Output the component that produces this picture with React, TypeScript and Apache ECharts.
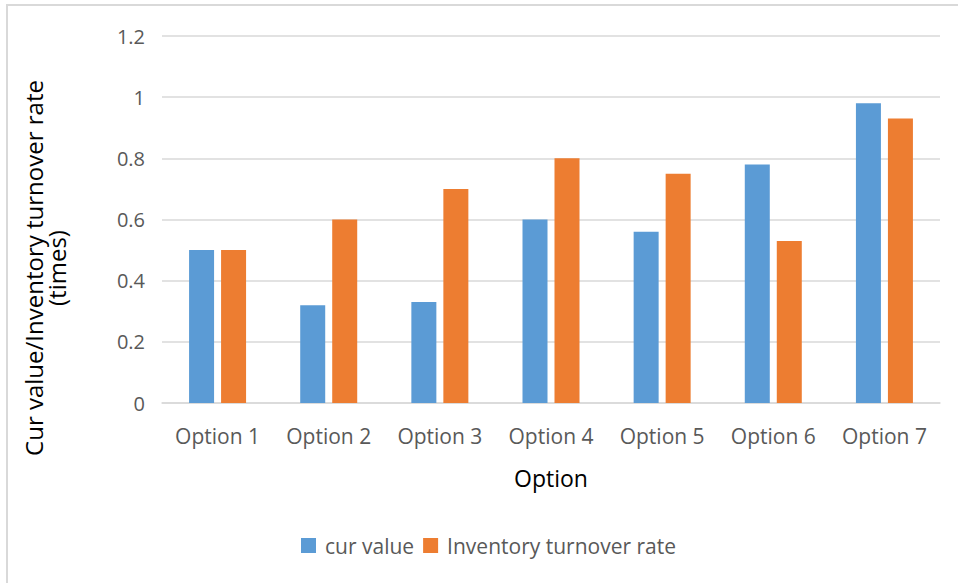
import React, { useEffect, useRef } from "react";
import * as echarts from "echarts";

const categories = ["Option 1", "Option 2", "Option 3", "Option 4", "Option 5", "Option 6", "Option 7"];
const curValue = [0.5, 0.32, 0.33, 0.6, 0.56, 0.78, 0.98];
const turnoverRate = [0.5, 0.6, 0.7, 0.8, 0.75, 0.53, 0.93];
const seriesNames = ["cur value", "Inventory turnover rate"];
const yTitle = "Cur value/Inventory turnover rate\n(times)";
const xTitle = "Option";

const FONT = "'Open Sans', sans-serif";

export default function App() {
  const ref = useRef<HTMLDivElement>(null);
  useEffect(() => {
    const chart = echarts.init(ref.current!, null, { renderer: "svg" });
    chart.setOption({
      animation: false,
      backgroundColor: "#ffffff",
      textStyle: { fontFamily: FONT },
      grid: { left: 162, right: 18, top: 36, bottom: 180, containLabel: false },
      legend: {
        left: 296,
        top: 530,
        itemWidth: 15,
        itemHeight: 15,
        itemGap: 9,
        icon: "rect",
        data: seriesNames,
        textStyle: { color: "#595959", fontSize: 21, fontFamily: FONT, padding: [0, 0, 0, 4] },
      },
      xAxis: {
        type: "category",
        data: categories,
        name: xTitle,
        nameLocation: "middle",
        nameGap: 63,
        nameTextStyle: { color: "#000000", fontSize: 23, fontFamily: FONT },
        axisLine: { show: true, lineStyle: { color: "#d9d9d9", width: 1.5 } },
        axisTick: { show: false },
        axisLabel: { color: "#595959", fontSize: 21, fontFamily: FONT, margin: 22 },
      },
      yAxis: {
        type: "value",
        min: 0,
        max: 1.2,
        interval: 0.2,
        axisLine: { show: false },
        axisTick: { show: false },
        splitLine: { show: true, lineStyle: { color: "#d9d9d9", width: 1.5 } },
        axisLabel: { color: "#595959", fontSize: 20, fontFamily: FONT, margin: 17 },
      },
      series: [
        {
          name: seriesNames[0],
          type: "bar",
          data: curValue,
          barWidth: 25,
          barGap: "28%",
          itemStyle: { color: "#5b9bd5" },
        },
        {
          name: seriesNames[1],
          type: "bar",
          data: turnoverRate,
          barWidth: 25,
          barGap: "28%",
          itemStyle: { color: "#ed7d31" },
        },
      ],
      graphic: [
        {
          type: "rect",
          shape: { x: 7, y: 5, width: 1000, height: 1000 },
          style: { fill: "none", stroke: "#d9d9d9", lineWidth: 2 },
          silent: true,
        },
        {
          type: "text",
          x: 45,
          y: 268,
          rotation: Math.PI / 2,
          style: {
            text: yTitle,
            fill: "#000000",
            fontSize: 24,
            fontFamily: FONT,
            align: "center",
            verticalAlign: "middle",
            lineHeight: 23,
          },
        },
      ],
    });
    return () => chart.dispose();
  }, []);
  return (
    <div
      ref={ref}
      style={{ position: "fixed", left: 0, top: 0, width: 958, height: 583 }}
    />
  );
}
